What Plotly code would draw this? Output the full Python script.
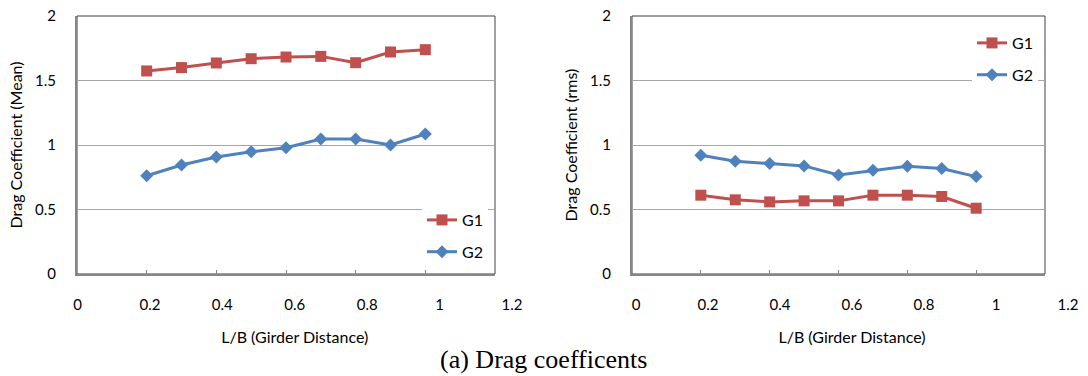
import plotly.graph_objects as go

# ---- data ----
lb = [0.2, 0.3, 0.4, 0.5, 0.6, 0.7, 0.8, 0.9, 1.0]
mean_g1 = [1.574, 1.600, 1.636, 1.669, 1.682, 1.687, 1.638, 1.721, 1.739]
mean_g2 = [0.762, 0.845, 0.907, 0.948, 0.979, 1.047, 1.047, 1.000, 1.085]
rms_g1 = [0.611, 0.575, 0.559, 0.567, 0.567, 0.611, 0.611, 0.601, 0.510]
rms_g2 = [0.920, 0.874, 0.856, 0.838, 0.768, 0.804, 0.835, 0.817, 0.755]
series_names = ["G1", "G2"]
x_ticks = [0, 0.2, 0.4, 0.6, 0.8, 1, 1.2]
x_ticklabels = ["0", "0.2", "0.4", "0.6", "0.8", "1", "1.2"]
y_ticks = [0, 0.5, 1, 1.5, 2]
y_ticklabels = ["0", "0.5", "1", "1.5", "2"]
x_title = "L/B (Girder Distance)"
y_titles = ["Drag Coefficient (Mean)", "Drag Coefficient (rms)"]
caption = "(a) Drag coefficents"

RED = "#C0504D"
BLUE = "#4F81BD"
FONT = "Lato, Open Sans, sans-serif"
GRID = "#A6A6A6"
AXIS = "#868686"

W, H = 1088, 376
def fx(p):
    return p / W
def fy(q):
    return 1 - q / H

fig = go.Figure()

def add_pair(g1, g2, xa, ya, leg):
    fig.add_trace(go.Scatter(x=lb, y=g1, name=series_names[0], xaxis=xa, yaxis=ya,
                             mode="lines+markers", legend=leg, legendgroup=leg + "a",
                             line=dict(color=RED, width=3),
                             marker=dict(symbol="square", size=11, color=RED)))
    fig.add_trace(go.Scatter(x=lb, y=g2, name=series_names[1], xaxis=xa, yaxis=ya,
                             mode="lines+markers", legend=leg, legendgroup=leg + "b",
                             line=dict(color=BLUE, width=3),
                             marker=dict(symbol="diamond", size=10, color=BLUE)))

add_pair(mean_g1, mean_g2, "x", "y", "legend")
add_pair(rms_g1, rms_g2, "x2", "y2", "legend2")

# helper (empty) traces so the tick-label axes get drawn
for xa, ya in [("x3", "y3"), ("x4", "y4")]:
    fig.add_trace(go.Scatter(x=x_ticks, y=[None] * len(x_ticks), xaxis=xa, yaxis=ya,
                             mode="lines", showlegend=False, hoverinfo="skip"))

ydom = [fy(274), fy(16)]
xdoms = [[fx(77), fx(495)], [fx(632), fx(1045)]]
label_doms = [[fx(77.5), fx(512)], [fx(636), fx(1068)]]

def xaxis(dom, anchor):
    return dict(domain=dom, anchor=anchor, range=[0, 1.2], tickvals=x_ticks,
                showticklabels=False, showgrid=False, zeroline=False, automargin=False,
                showline=True, linecolor=AXIS, linewidth=2,
                ticks="inside", ticklen=4, tickcolor=AXIS)

def xlabelaxis(dom, anchor):
    return dict(domain=dom, anchor=anchor, range=[0, 1.2], tickvals=x_ticks,
                ticktext=x_ticklabels, showgrid=False, zeroline=False, automargin=False,
                showline=False, ticks="", ticklabelstandoff=20, ticklabeloverflow="allow",
                tickfont=dict(family=FONT, size=15, color="#000"),
                title=dict(text=x_title, font=dict(family=FONT, size=16, color="#000"), standoff=19))

def yaxis(dom, anchor, title):
    return dict(domain=dom, anchor=anchor, range=[0, 2], tickvals=y_ticks,
                ticktext=y_ticklabels, showgrid=True, gridcolor=GRID, gridwidth=1,
                zeroline=False, showline=True, linecolor=AXIS, linewidth=2, automargin=False,
                ticks="", ticklabelstandoff=16, ticklabeloverflow="allow",
                tickfont=dict(family=FONT, size=15, color="#000"),
                title=dict(text=title, font=dict(family=FONT, size=16, color="#000"), standoff=8))

def hiddenyaxis(dom, anchor):
    return dict(domain=dom, anchor=anchor, range=[0, 2], visible=False,
                showgrid=False, zeroline=False, automargin=False)

shapes = []
for xr, yr in [("x domain", "y domain"), ("x2 domain", "y2 domain")]:
    shapes.append(dict(type="rect", xref=xr, yref=yr, x0=0, x1=1, y0=0, y1=1,
                       line=dict(color="#404040", width=1), layer="below"))

legend_common = dict(bgcolor="white", borderwidth=0, tracegroupgap=8,
                     font=dict(family=FONT, size=16, color="#000"),
                     xanchor="left", yanchor="top", itemwidth=30)

fig.update_layout(
    width=W, height=H,
    margin=dict(l=0, r=0, t=0, b=0),
    paper_bgcolor="white", plot_bgcolor="rgba(0,0,0,0)",
    xaxis=xaxis(xdoms[0], "y"), yaxis=yaxis(ydom, "x", y_titles[0]),
    xaxis2=xaxis(xdoms[1], "y2"), yaxis2=yaxis(ydom, "x2", y_titles[1]),
    xaxis3=xlabelaxis(label_doms[0], "y3"), yaxis3=hiddenyaxis(ydom, "x3"),
    xaxis4=xlabelaxis(label_doms[1], "y4"), yaxis4=hiddenyaxis(ydom, "x4"),
    legend=dict(x=fx(422), y=fy(203), **legend_common),
    legend2=dict(x=fx(972), y=fy(26), **legend_common),
    shapes=shapes,
    annotations=[dict(text=caption, x=fx(543), y=fy(359), xref="paper", yref="paper",
                      showarrow=False, xanchor="center", yanchor="middle",
                      font=dict(family="Liberation Serif, Times New Roman, serif", size=26, color="#000"))],
)

fig.write_html("out.html", config={"displayModeBar": False},
               post_script="document.body.style.margin='0';document.body.style.overflow='hidden';")
